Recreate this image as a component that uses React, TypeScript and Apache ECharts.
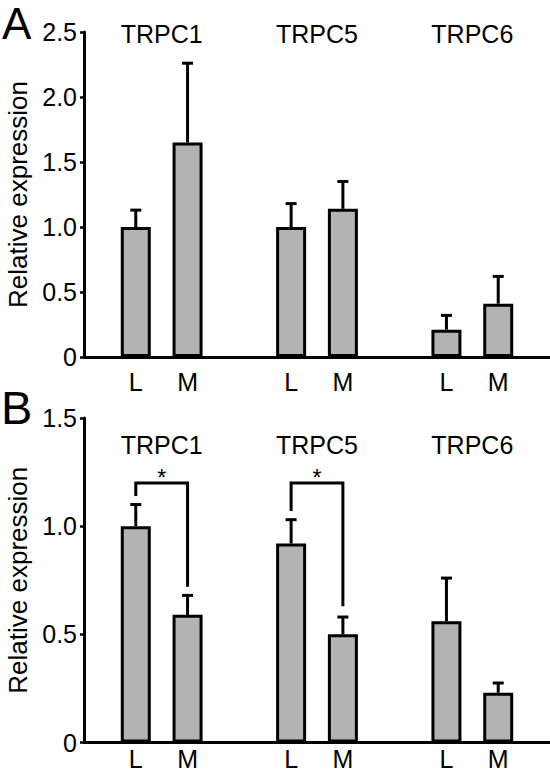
import React, { useEffect, useRef } from "react";
import * as echarts from "echarts";

const genes = ["TRPC1", "TRPC5", "TRPC6"];
const groups = ["L", "M"];
// Panel A
const meansA = [1.0, 1.65, 1.0, 1.14, 0.21, 0.41];
const errA = [0.13, 0.61, 0.18, 0.21, 0.11, 0.21];
const yTicksA = [0, 0.5, 1.0, 1.5, 2.0, 2.5];
const titleLevelA = 2.485;
// Panel B
const meansB = [1.0, 0.59, 0.92, 0.5, 0.56, 0.23];
const errB = [0.1, 0.09, 0.11, 0.08, 0.2, 0.045];
const yTicksB = [0, 0.5, 1.0, 1.5];
const titleLevelB = 1.375;
// significance brackets in panel B
const bracketGenesB = [0, 1];
const bracketTopB = [1.2, 1.2];
const bracketLeftEndB = [1.14, 1.07];
const bracketRightEndB = [0.72, 0.63];
const bracketMark = "*";

const FONT = "'Liberation Sans', Arial, sans-serif";

const slots: string[] = ["", ...genes.flatMap(() => [...groups, ""])];
const slotOf = (g: number, k: number) => 1 + g * groups.length + g + k;

function barData(means: number[]) {
  const d: (number | string)[] = slots.map(() => "-");
  genes.forEach((_, g) =>
    groups.forEach((__, k) => {
      d[slotOf(g, k)] = means[g * groups.length + k];
    })
  );
  return d;
}
function errData(means: number[], errs: number[]) {
  const d: number[][] = [];
  genes.forEach((_, g) =>
    groups.forEach((__, k) => {
      const i = g * groups.length + k;
      d.push([slotOf(g, k), means[i], errs[i]]);
    })
  );
  return d;
}

const errRender = (params: any, api: any) => {
  const x = api.value(0);
  const m = api.value(1);
  const e = api.value(2);
  const p0 = api.coord([x, m]);
  const p1 = api.coord([x, m + e]);
  const style = { stroke: "#000", lineWidth: 3 };
  return {
    type: "group",
    children: [
      { type: "line", shape: { x1: p0[0], y1: p0[1], x2: p1[0], y2: p1[1] }, style },
      { type: "line", shape: { x1: p1[0] - 5.5, y1: p1[1], x2: p1[0] + 5.5, y2: p1[1] }, style },
    ],
  };
};

const titleRender = (level: number) => (params: any, api: any) => {
  const g = api.value(0);
  const a = api.coord([slotOf(g, 0), level]);
  const b = api.coord([slotOf(g, groups.length - 1), level]);
  return {
    type: "text",
    x: (a[0] + b[0]) / 2,
    y: a[1],
    style: {
      text: genes[g],
      fontSize: 25,
      fontFamily: FONT,
      fill: "#000",
      align: "center",
      verticalAlign: "middle",
    },
  };
};

const bracketRender = (params: any, api: any) => {
  const g = api.value(0);
  const top = api.value(1);
  const le = api.value(2);
  const re = api.value(3);
  const lt = api.coord([slotOf(g, 0), top]);
  const lb = api.coord([slotOf(g, 0), le]);
  const rt = api.coord([slotOf(g, 1), top]);
  const rb = api.coord([slotOf(g, 1), re]);
  return {
    type: "group",
    children: [
      {
        type: "polyline",
        shape: { points: [lb, lt, rt, rb] },
        style: { stroke: "#000", lineWidth: 3, fill: null },
      },
      {
        type: "text",
        x: (lt[0] + rt[0]) / 2,
        y: lt[1] - 4.5,
        style: {
          text: bracketMark,
          fontSize: 23,
          fontFamily: FONT,
          fill: "#000",
          align: "center",
          verticalAlign: "middle",
        },
      },
    ],
  };
};

function yAxisFor(ticks: number[], gridIndex: number) {
  return {
    type: "value",
    gridIndex,
    min: ticks[0],
    max: ticks[ticks.length - 1],
    interval: ticks[1] - ticks[0],
    name: "Relative expression",
    nameLocation: "middle",
    nameGap: 41,
    nameTextStyle: { fontSize: 26, fontFamily: FONT, color: "#000" },
    axisLine: { show: true, lineStyle: { color: "#000", width: 3 } },
    axisTick: { show: true, inside: false, length: 4, lineStyle: { color: "#000", width: 2.5 } },
    axisLabel: {
      fontSize: 25,
      fontFamily: FONT,
      color: "#000",
      margin: 7,
      formatter: (v: number) => (v === 0 ? "0" : v.toFixed(1)),
    },
    splitLine: { show: false },
  };
}

function xAxisFor(gridIndex: number, margin: number) {
  return {
    type: "category",
    gridIndex,
    data: slots,
    boundaryGap: false,
    axisLine: { show: true, onZero: false, lineStyle: { color: "#000", width: 3 } },
    axisTick: { show: false },
    axisLabel: { interval: 0, fontSize: 25, fontFamily: FONT, color: "#000", margin },
    splitLine: { show: false },
  };
}

const barStyle = { color: "#b3b3b3", borderColor: "#000", borderWidth: 3 };

export default function App() {
  const ref = useRef<HTMLDivElement>(null);
  useEffect(() => {
    if (!ref.current) return;
    const chart = echarts.init(ref.current, null, { renderer: "svg" });
    chart.setOption({
      animation: false,
      backgroundColor: "#fff",
      textStyle: { fontFamily: FONT },
      grid: [
        { left: 84, top: 32, right: 0, height: 325, outerBoundsMode: "none", containLabel: false },
        { left: 84, top: 418, right: 0, height: 324.5, outerBoundsMode: "none", containLabel: false },
      ],
      xAxis: [xAxisFor(0, 12), xAxisFor(1, 4)],
      yAxis: [yAxisFor(yTicksA, 0), yAxisFor(yTicksB, 1)],
      graphic: [
        {
          type: "text",
          left: 2,
          top: 1,
          style: { text: "A", fontSize: 44, fontFamily: FONT, fill: "#000" },
        },
        {
          type: "text",
          left: 1,
          top: 384,
          style: { text: "B", fontSize: 47, fontFamily: FONT, fill: "#000" },
        },
      ],
      series: [
        {
          type: "bar",
          xAxisIndex: 0,
          yAxisIndex: 0,
          barWidth: 30,
          data: barData(meansA),
          itemStyle: barStyle,
        },
        {
          type: "custom",
          xAxisIndex: 0,
          yAxisIndex: 0,
          data: errData(meansA, errA),
          renderItem: errRender,
          z: 3,
        },
        {
          type: "custom",
          xAxisIndex: 0,
          yAxisIndex: 0,
          data: genes.map((_, g) => [g]),
          renderItem: titleRender(titleLevelA),
          clip: false,
        },
        {
          type: "bar",
          xAxisIndex: 1,
          yAxisIndex: 1,
          barWidth: 30,
          data: barData(meansB),
          itemStyle: barStyle,
        },
        {
          type: "custom",
          xAxisIndex: 1,
          yAxisIndex: 1,
          data: errData(meansB, errB),
          renderItem: errRender,
          z: 3,
        },
        {
          type: "custom",
          xAxisIndex: 1,
          yAxisIndex: 1,
          data: genes.map((_, g) => [g]),
          renderItem: titleRender(titleLevelB),
          clip: false,
        },
        {
          type: "custom",
          xAxisIndex: 1,
          yAxisIndex: 1,
          data: bracketGenesB.map((g, i) => [g, bracketTopB[i], bracketLeftEndB[i], bracketRightEndB[i]]),
          renderItem: bracketRender,
          z: 3,
        },
      ],
    });
    return () => chart.dispose();
  }, []);
  return (
    <div
      ref={ref}
      style={{ position: "fixed", left: 0, top: 0, width: 550, height: 772, background: "#fff" }}
    />
  );
}
